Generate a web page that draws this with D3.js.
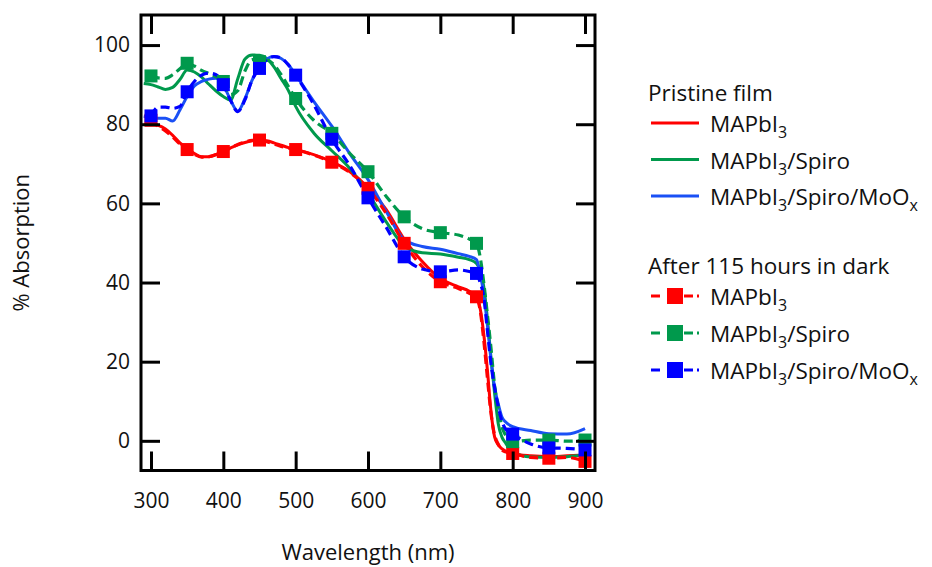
<!DOCTYPE html>
<html>
<head>
<meta charset="utf-8">
<script src="https://cdn.jsdelivr.net/npm/d3@7"></script>
<style>
  body { margin: 0; background: #fff; }
  svg { display: block; }
  text { font-family: "Open Sans", sans-serif; fill: #111; }
</style>
</head>
<body>
<svg id="chart" width="932" height="567"></svg>
<script>
// Wavelength grid (nm) shared by all spectra
const wavelengths = [290, 300, 310, 320, 330, 340, 350, 360, 370, 380, 390, 400, 410, 420, 430, 440, 450, 460, 470, 480, 490, 500,
  525, 550, 575, 600, 625, 650, 675, 700, 725, 740, 750, 755, 760, 765, 770, 775, 780, 785, 790, 800, 825, 850, 875, 900];

// Pristine films (% absorption)
const pristineMAPbI3 = [80.0, 80.0, 79.7, 78.8, 77.2, 75.3, 73.9, 72.6, 71.8, 71.8, 72.4, 73.1, 74.0, 74.8, 75.4, 75.8, 76.0, 75.8, 75.3, 74.7, 74.1, 73.6,
  72.3, 70.5, 68.0, 64.0, 58.5, 51.0, 45.3, 41.0, 38.9, 37.8, 36.4, 33.5, 27.0, 18.0, 7.5, 1.0, -1.0, -2.0, -2.6, -3.2, -3.8, -4.0, -3.8, -3.6];
const pristineSpiro = [90.3, 90.0, 89.4, 88.8, 89.3, 91.3, 93.7, 93.2, 91.9, 90.1, 88.4, 87.0, 86.1, 91.5, 96.5, 97.5, 97.4, 96.6, 94.5, 91.5, 88.5, 84.5,
  77.8, 73.3, 68.8, 62.6, 55.4, 49.3, 47.5, 47.2, 46.4, 45.8, 44.8, 43.0, 39.0, 31.0, 21.0, 12.0, 4.4, 1.0, -0.5, -2.8, -4.1, -4.2, -4.0, -3.6];
const pristineMoOx = [82.0, 81.7, 81.5, 81.5, 80.8, 83.6, 87.0, 89.7, 90.8, 91.4, 91.6, 89.9, 86.1, 83.3, 86.5, 91.2, 94.6, 96.5, 97.1, 96.6, 95.0, 92.5,
  85.8, 79.5, 72.5, 66.0, 58.0, 50.8, 49.1, 48.4, 47.3, 46.6, 45.8, 42.3, 37.0, 29.4, 20.5, 13.5, 9.4, 6.1, 4.8, 3.6, 2.6, 1.8, 1.7, 3.1];

// After 115 hours in dark (% absorption)
const darkMAPbI3 = [null, 81.0, 79.5, 78.3, 76.8, 75.0, 73.6, 72.4, 71.7, 71.8, 72.3, 73.1, 74.0, 74.9, 75.5, 75.9, 76.0, 75.6, 75.0, 74.4, 74.0, 73.6,
  72.2, 70.4, 67.8, 63.8, 57.5, 49.9, 44.0, 40.2, 38.5, 37.3, 36.4, 33.0, 25.5, 16.0, 7.0, 1.5, -0.8, -2.3, -2.8, -3.2, -4.2, -4.4, -4.2, -5.2];
const darkSpiro = [null, 92.2, 91.7, 91.6, 92.5, 94.0, 95.4, 94.7, 93.6, 92.8, 92.0, 90.8, 87.5, 88.5, 93.5, 96.3, 95.8, 96.2, 95.0, 92.5, 89.5, 86.5,
  81.0, 77.7, 72.6, 68.0, 61.8, 56.6, 53.6, 52.6, 52.0, 51.0, 49.9, 46.5, 40.0, 32.0, 23.5, 14.0, 8.5, 3.6, 1.5, -0.2, 0.2, 0.2, -0.1, 0.2];
const darkMoOx = [null, 82.1, 84.3, 84.3, 84.0, 84.5, 88.2, 90.8, 92.4, 92.9, 92.5, 90.0, 86.0, 83.2, 86.2, 91.3, 94.1, 96.3, 97.1, 96.7, 95.0, 92.4,
  85.0, 76.2, 69.5, 61.4, 54.0, 46.5, 43.4, 42.7, 43.2, 42.8, 42.3, 40.0, 36.4, 28.0, 19.5, 13.5, 8.7, 5.0, 3.0, 1.7, -0.8, -1.8, -1.9, -2.3];

const xTicks = [300, 400, 500, 600, 700, 800, 900];
const yTicks = [0, 20, 40, 60, 80, 100];

const colors = { red: "#ff0000", green: "#00994c", blue: "#0000ff", blueLine: "#1a50f5" };

const pristineSeries = [
  { name: "MAPbI", tail: "", values: pristineMAPbI3, color: colors.red },
  { name: "MAPbI", tail: "/Spiro", values: pristineSpiro, color: colors.green },
  { name: "MAPbI", tail: "/Spiro/MoO", sub: "x", values: pristineMoOx, color: colors.blueLine }
];
const darkSeries = [
  { name: "MAPbI", tail: "", values: darkMAPbI3, color: colors.red },
  { name: "MAPbI", tail: "/Spiro", values: darkSpiro, color: colors.green },
  { name: "MAPbI", tail: "/Spiro/MoO", sub: "x", values: darkMoOx, color: colors.blue }
];

const svg = d3.select("#chart");
const plot = { left: 141, top: 15, right: 595, bottom: 470.5 };

const x = d3.scaleLinear().domain([286.2, 913.8]).range([plot.left, plot.right]);
const y = d3.scaleLinear().domain([-7.5, 107.6]).range([plot.bottom, plot.top]);

const line = d3.line()
  .defined(d => d[1] !== null)
  .x(d => x(d[0]))
  .y(d => y(d[1]))
  .curve(d3.curveMonotoneX);

const pairs = vals => wavelengths.map((w, i) => [w, vals[i]]);

const lines = svg.append("g").attr("fill", "none").attr("stroke-linejoin", "round");

pristineSeries.forEach(s => {
  lines.append("path")
    .attr("d", line(pairs(s.values)))
    .attr("stroke", s.color)
    .attr("stroke-width", 3);
});

const markerSize = 13;
darkSeries.forEach(s => {
  lines.append("path")
    .attr("d", line(pairs(s.values)))
    .attr("stroke", s.color)
    .attr("stroke-width", 3.2)
    .attr("stroke-dasharray", "9,5");
  const pts = pairs(s.values).filter(d => d[1] !== null && d[0] % 50 === 0);
  svg.append("g").selectAll("rect").data(pts).join("rect")
    .attr("x", d => x(d[0]) - markerSize / 2)
    .attr("y", d => y(d[1]) - markerSize / 2)
    .attr("width", markerSize)
    .attr("height", markerSize)
    .attr("fill", s.color);
});

// Axes with inward ticks on all four sides
const tickLen = 19;
const styleAxis = g => {
  g.select(".domain").remove();
  g.selectAll(".tick line").attr("stroke", "#000").attr("stroke-width", 3);
  g.selectAll(".tick text").attr("font-size", 21).attr("fill", "#111")
    .attr("font-family", "'Open Sans', sans-serif");
};

svg.append("g")
  .attr("transform", `translate(0,${plot.bottom})`)
  .call(d3.axisBottom(x).tickValues(xTicks).tickSizeInner(-tickLen).tickSizeOuter(0).tickPadding(23))
  .call(styleAxis);
svg.append("g")
  .attr("transform", `translate(0,${plot.top})`)
  .call(d3.axisTop(x).tickValues(xTicks).tickSizeInner(-tickLen).tickSizeOuter(0).tickFormat(""))
  .call(styleAxis);
svg.append("g")
  .attr("transform", `translate(${plot.left},0)`)
  .call(d3.axisLeft(y).tickValues(yTicks).tickSizeInner(-tickLen).tickSizeOuter(0).tickPadding(11))
  .call(styleAxis);
svg.append("g")
  .attr("transform", `translate(${plot.right},0)`)
  .call(d3.axisRight(y).tickValues(yTicks).tickSizeInner(-tickLen).tickSizeOuter(0).tickFormat(""))
  .call(styleAxis);

svg.append("rect")
  .attr("x", plot.left).attr("y", plot.top)
  .attr("width", plot.right - plot.left).attr("height", plot.bottom - plot.top)
  .attr("fill", "none").attr("stroke", "#000").attr("stroke-width", 3);

// Axis titles
svg.append("text")
  .attr("x", (plot.left + plot.right) / 2).attr("y", 560)
  .attr("text-anchor", "middle").attr("font-size", 22)
  .text("Wavelength (nm)");
svg.append("text")
  .attr("transform", `translate(29,${(plot.top + plot.bottom) / 2}) rotate(-90)`)
  .attr("text-anchor", "middle").attr("font-size", 22)
  .text("% Absorption");

// Legend
const legend = svg.append("g").attr("font-size", 22.5);
const lx0 = 651, lx1 = 699, tx = 710;

function labelText(g, s, yy) {
  const t = g.append("text").attr("x", tx).attr("y", yy + 9);
  t.append("tspan").text(s.name);
  t.append("tspan").attr("font-size", 16).attr("dy", 6).text("3");
  t.append("tspan").attr("dy", -6).text(s.tail);
  if (s.sub) {
    t.append("tspan").attr("font-size", 16).attr("dy", 6).text(s.sub);
  }
}

const pristineRows = [123, 159.5, 196];
legend.append("text").attr("x", 648).attr("y", 101).text("Pristine film");
pristineSeries.forEach((s, i) => {
  legend.append("line")
    .attr("x1", lx0).attr("x2", lx1).attr("y1", pristineRows[i]).attr("y2", pristineRows[i])
    .attr("stroke", s.color).attr("stroke-width", 3);
  labelText(legend, s, pristineRows[i]);
});

const darkRows = [296, 333, 370];
legend.append("text").attr("x", 648).attr("y", 273.5).text("After 115 hours in dark");
darkSeries.forEach((s, i) => {
  legend.append("line")
    .attr("x1", lx0).attr("x2", lx1).attr("y1", darkRows[i]).attr("y2", darkRows[i])
    .attr("stroke", s.color).attr("stroke-width", 3)
    .attr("stroke-dasharray", "9,24,9,4,2");
  const ls = 16;
  legend.append("rect")
    .attr("x", 675 - ls / 2).attr("y", darkRows[i] - ls / 2)
    .attr("width", ls).attr("height", ls).attr("fill", s.color);
  labelText(legend, s, darkRows[i]);
});
</script>
</body>
</html>
